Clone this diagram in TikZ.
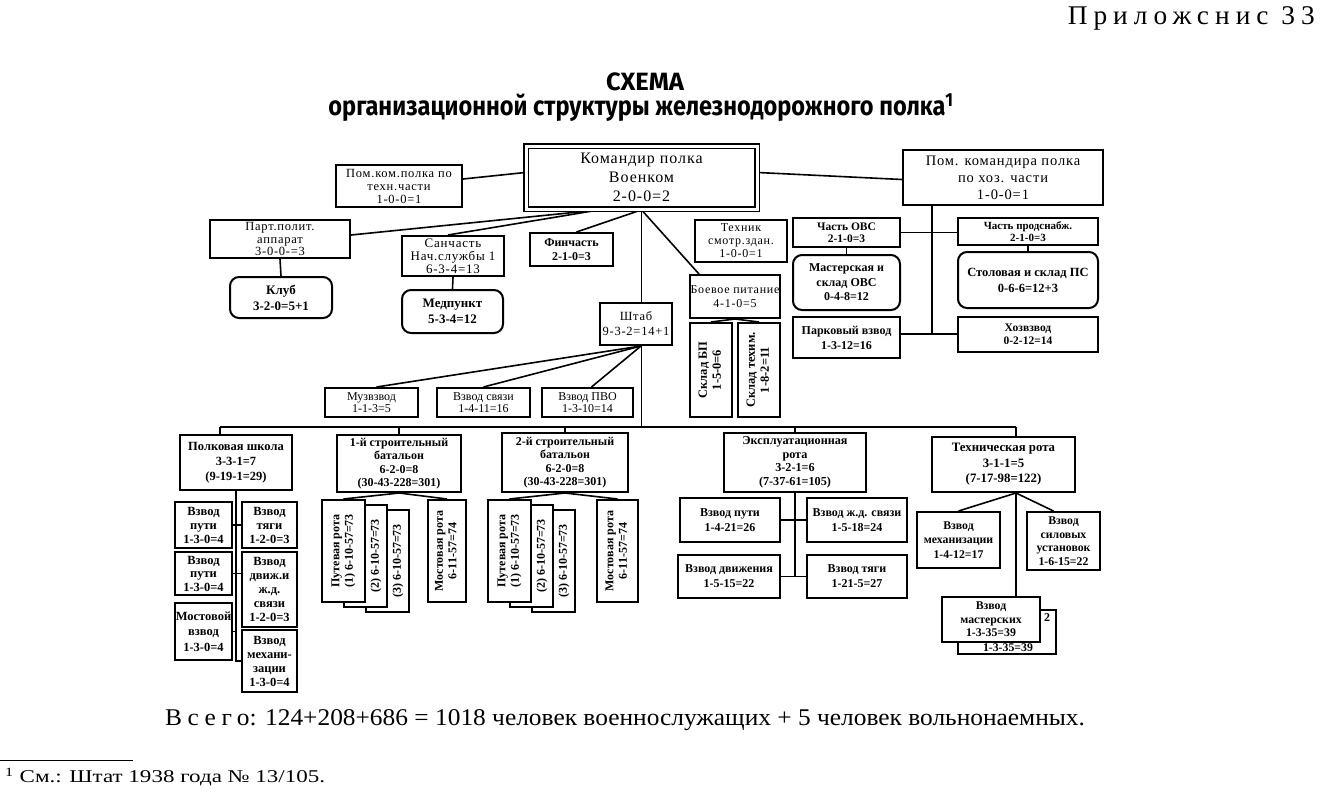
\documentclass[tikz,border=0pt]{standalone}
\usepackage{fontspec}
\usepackage{graphicx}
\setmainfont{Liberation Serif}
\newfontfamily\rsp[LetterSpace=6]{Liberation Serif}
\newfontfamily\spc[LetterSpace=22]{Liberation Serif}
\newfontfamily\ttl{Fira Sans}
\usetikzlibrary{calc}
\pgfdeclarelayer{bg}
\pgfsetlayers{bg,main}
\newcommand\fz[2]{\fontsize{#1}{#2}\selectfont}
\newcommand\rtx[1]{\rotatebox{90}{\begin{tabular}{@{}c@{}}#1\end{tabular}}}
\begin{document}
\begin{tikzpicture}[x=1pt,y=-1pt,
  bx/.style={draw, line width=2pt, fill=white, inner sep=0pt, align=center, font=\fz{12}{13.5}\bfseries},
  rx/.style={bx, font=\fz{12}{13.5}\rsp},
  wh/.style 2 args={minimum width=#1pt, minimum height=#2pt},
  rnd/.style={rounded corners=9pt},
  con/.style={line width=1.6pt},
  lbl/.style={inner sep=0pt, font=\fz{12}{13}\bfseries},
  txt/.style={inner sep=0pt}]
\useasboundingbox (0,0) rectangle (1323,795);

% header and title
\node[txt, anchor=east] (app) at (1315,18) {\resizebox{247pt}{\height}{\spc\fz{27}{27}Приложснис 33}};
\node[txt] (t1) at (645,82) {\resizebox{78pt}{\height}{\ttl\bfseries\fz{25}{25}СХЕМА}};
\node[txt] (t2) at (641,108) {\resizebox{625pt}{\height}{\ttl\bfseries\fz{27}{27}организационной структуры железнодорожного полка\textsuperscript{1}}};

% top level
\node[rx, wh={126}{42}, font=\fz{12.5}{13}\rsp] (pomtech) at (399,186) {Пом.ком.полка по\\техн.части\\1-0-0=1};
\node[rx, wh={231}{63}, double, double distance=3pt, line width=1.7pt, font=\fz{16}{19}\rsp] (kom) at (641.5,177.5) {Командир полка\\Военком\\2-0-0=2};
\node[rx, wh={200}{55}, font=\fz{14.5}{17}\rsp] (pomhoz) at (1003,177.5) {Пом. командира полка\\по хоз. части\\1-0-0=1};

\node[rx, wh={140}{38}, font=\fz{12.5}{12.5}\rsp] (part) at (280,239) {Парт.полит.\\аппарат\\3-0-0-=3};
\node[bx, rnd, wh={102}{41}, font=\fz{13}{16}\bfseries] (klub) at (281,297.5) {Клуб\\3-2-0=5+1};
\node[rx, wh={102}{40}, font=\fz{13}{13}\rsp] (san) at (453,256) {Санчасть\\Нач.службы 1\\6-3-4=13};
\node[bx, rnd, wh={101}{43}, font=\fz{13}{16}\bfseries] (med) at (452.5,311.5) {Медпункт\\5-3-4=12};
\node[bx, wh={83}{33}, font=\fz{12}{14}\bfseries] (fin) at (571.5,249.5) {Финчасть\\2-1-0=3};
\node[rx, wh={92}{42}, font=\fz{12}{13}\rsp] (tech) at (741,241) {Техник\\смотр.здан.\\1-0-0=1};
\node[rx, wh={90}{43}, font=\fz{12}{14}\rsp] (boev) at (735,296.5) {Боевое питание\\4-1-0=5};
\node[bx, wh={42}{94}, font=\fz{12.5}{14}\bfseries] (sbp) at (711,370) {\rtx{Склад БП\\1-5-0=6}};
\node[bx, wh={42}{94}, font=\fz{12.5}{14}\bfseries] (steh) at (759,370) {\rtx{Склад техим.\\1-8-2=11}};
\node[rx, wh={72}{42}, font=\fz{12.5}{15}\rsp] (shtab) at (636,324) {Штаб\\9-3-2=14+1};
\node[rx, wh={93}{29}, font=\fz{12}{12.5}] (muz) at (371.5,402.5) {Музвзвод\\1-1-3=5};
\node[rx, wh={93}{29}, font=\fz{12}{12.5}] (svyaz) at (483.5,402.5) {Взвод связи\\1-4-11=16};
\node[rx, wh={91}{29}, font=\fz{12}{12.5}] (pvo) at (587.5,402.5) {Взвод ПВО\\1-3-10=14};

% right group
\node[bx, wh={107}{29}, font=\fz{11.5}{12.5}\bfseries] (ovs) at (846.5,232.5) {Часть ОВС\\2-1-0=3};
\node[bx, rnd, wh={107}{55}, font=\fz{12}{14.5}\bfseries] (masovs) at (846.5,282.5) {Мастерская и\\склад ОВС\\0-4-8=12};
\node[bx, wh={107}{41}, font=\fz{12}{15}\bfseries] (park) at (846.5,337.5) {Парковый взвод\\1-3-12=16};
\node[bx, wh={140}{27}, font=\fz{11}{12}\bfseries] (prod) at (1028,231.5) {Часть продснабж.\\2-1-0=3};
\node[bx, rnd, wh={140}{56}, font=\fz{12.5}{16}\bfseries] (stol) at (1028,280) {Столовая и склад ПС\\0-6-6=12+3};
\node[bx, wh={140}{35}, font=\fz{11.5}{13.5}\bfseries] (hoz) at (1028,334.5) {Хозвзвод\\0-2-12=14};

% school
\node[bx, wh={112}{55}, font=\fz{12.5}{15}\bfseries] (school) at (236,462.5) {Полковая школа\\3-3-1=7\\(9-19-1=29)};
\node[bx, wh={57}{46}, font=\fz{12.5}{14}\bfseries] (sp1) at (203.5,525) {Взвод\\пути\\1-3-0=4};
\node[bx, wh={55}{46}, font=\fz{12.5}{14}\bfseries] (st) at (269.5,525) {Взвод\\тяги\\1-2-0=3};
\node[bx, wh={57}{43}, font=\fz{12.5}{13.5}\bfseries] (sp2) at (203.5,573.5) {Взвод\\пути\\1-3-0=4};
\node[bx, wh={55}{75}, font=\fz{12.5}{14}\bfseries] (sdv) at (269.5,589.5) {Взвод\\движ.и\\ж.д.\\связи\\1-2-0=3};
\node[bx, wh={57}{57}, font=\fz{12.5}{15.5}\bfseries] (smost) at (203.5,631.5) {Мостовой\\взвод\\1-3-0=4};
\node[bx, wh={55}{62}, font=\fz{12.5}{14}\bfseries] (smeh) at (269.5,661) {Взвод\\механи-\\зации\\1-3-0=4};

% battalion 1
\node[bx, wh={124}{57}, font=\fz{12}{13.5}\bfseries] (bat1) at (399,463.5) {1-й строительный\\батальон\\6-2-0=8\\(30-43-228=301)};
\node[bx, wh={43}{102}] (p1c) at (387.5,561) {};
\node[bx, wh={43}{102}] (p1b) at (365.5,556) {};
\node[bx, wh={43}{102}] (p1a) at (343.5,551) {\rtx{Путевая рота\\(1) 6-10-57=73}};
\node[lbl] (p1bt) at (376,556) {\rotatebox{90}{(2) 6-10-57=73}};
\node[lbl] (p1ct) at (398,561) {\rotatebox{90}{(3) 6-10-57=73}};
\node[bx, wh={38}{102}] (m1) at (447,551) {\rtx{Мостовая рота\\6-11-57=74}};

% battalion 2
\node[bx, wh={126}{59}, font=\fz{12}{13.5}\bfseries] (bat2) at (565,462.5) {2-й строительный\\батальон\\6-2-0=8\\(30-43-228=301)};
\node[bx, wh={43}{102}] (p2c) at (553.5,561) {};
\node[bx, wh={43}{102}] (p2b) at (531.5,556) {};
\node[bx, wh={43}{102}] (p2a) at (509.5,551) {\rtx{Путевая рота\\(1) 6-10-57=73}};
\node[lbl] (p2bt) at (542,556) {\rotatebox{90}{(2) 6-10-57=73}};
\node[lbl] (p2ct) at (564,561) {\rotatebox{90}{(3) 6-10-57=73}};
\node[bx, wh={41}{102}] (m2) at (617.5,551) {\rtx{Мостовая рота\\6-11-57=74}};

% exploitation company
\node[bx, wh={142}{59}, font=\fz{12.2}{13.5}\bfseries] (expl) at (795,462.5) {Эксплуатационная\\рота\\3-2-1=6\\(7-37-61=105)};
\node[bx, wh={100}{44}, font=\fz{12}{15}\bfseries] (ep) at (730,520) {Взвод пути\\1-4-21=26};
\node[bx, wh={100}{44}, font=\fz{12}{15}\bfseries] (ejd) at (857,520) {Взвод ж.д. связи\\1-5-18=24};
\node[bx, wh={102}{43}, font=\fz{12}{15}\bfseries] (edv) at (729,576.5) {Взвод движения\\1-5-15=22};
\node[bx, wh={100}{43}, font=\fz{12}{15}\bfseries] (et) at (857,576.5) {Взвод тяги\\1-21-5=27};

% technical company
\node[bx, wh={143}{55}, font=\fz{12.8}{15.5}\bfseries] (techr) at (1003.5,464.5) {Техническая рота\\3-1-1=5\\(7-17-98=122)};
\node[bx, wh={83}{56}, font=\fz{11.8}{14.5}\bfseries] (tmeh) at (958.5,540) {Взвод\\механизации\\1-4-12=17};
\node[bx, wh={73}{58}, font=\fz{11.8}{13.5}\bfseries] (tsil) at (1063.5,541) {Взвод\\силовых\\установок\\1-6-15=22};
\node[bx, wh={98}{44}] (tmasb) at (1007,632) {};
\node[lbl] (tmasb2) at (1047,618) {2};
\node[lbl, font=\fz{11.8}{13}\bfseries] (tmasb3) at (1008,648) {1-3-35=39};
\node[bx, wh={98}{45}, font=\fz{11.8}{13.5}\bfseries] (tmasf) at (991,619.5) {Взвод\\мастерских\\1-3-35=39};

% footer
\node[txt] (total) at (625,720) {\resizebox{920pt}{\height}{\fz{24}{24}{\spc Всего}: 124+208+686 = 1018 человек военнослужащих + 5 человек вольнонаемных.}};
\coordinate (fnL) at (0,760);
\coordinate (fnR) at (133,760);
\node[txt, anchor=west] (fn) at (5,777) {\resizebox{320pt}{\height}{\fz{18}{18}\textsuperscript{1} См.: Штат 1938 года № 13/105.}};

\coordinate (busL) at (220,427);
\coordinate (busR) at (1016,427);
\coordinate (hzb) at (932,334);

\begin{pgfonlayer}{bg}
\draw[line width=0.8pt] (fnL) -- (fnR);
\draw[con] ([yshift=7pt]pomtech.east) -- ([yshift=5pt]kom.west);
\draw[con] ([yshift=5pt]kom.east) -- ([yshift=-2pt]pomhoz.west);
\draw[con] ([xshift=-42pt]kom.south) -- ([yshift=4pt]part.east);
\draw[con] ([xshift=-42pt]kom.south) -- ([xshift=-5pt]san.north);
\draw[con] (kom.south) -- ([xshift=5pt]fin.north);
\draw[con] (kom.south) -- ([xshift=10pt]boev.north west);
\draw[con] (kom.south) -- (kom.south |- shtab.north);
\draw[con] (kom.south |- shtab.south) -- (kom.south |- busL);
\draw[con] (part.south) -- (klub.north);
\draw[con] (san.south) -- (med.north);
\draw[con] (boev.south) -- (sbp.north);
\draw[con] (boev.south) -- (steh.north);
\draw[con] ([xshift=5pt]shtab.south) -- ([xshift=5pt]muz.north);
\draw[con] ([xshift=5pt]shtab.south) -- (svyaz.north);
\draw[con] ([xshift=5pt]shtab.south) -- ([xshift=4pt]pvo.north);
% right group
\draw[con] (pomhoz.south -| hzb) -- (hzb);
\draw[con] (ovs.east) -- (ovs.east -| prod.west);
\draw[con] (park.east |- hzb) -- (hoz.west |- hzb);
\draw[con] (ovs.south) -- (masovs.north);
\draw[con] (prod.south) -- (stol.north);
% bus
\draw[con] (busL) -- (busR);
\draw[con] (busL) -- (busL |- school.north);
\draw[con] (bat1.north |- busL) -- (bat1.north);
\draw[con] (bat2.north |- busL) -- (bat2.north);
\draw[con] (expl.north |- busL) -- (expl.north);
\draw[con] (busR) -- (busR |- techr.north);
% school
\draw[con] (school.south) -- (school.south |- smeh.west) -- (smeh.west);
\draw[con] (sp1.east) -- (st.west);
\draw[con] (sp2.east) -- (sp2.east -| sdv.west);
\draw[con] (smost.east) -- (smost.east -| school.south);
% battalions
\draw[con] (bat1.south) -- (p1a.north);
\draw[con] (bat1.south) -- (m1.north);
\draw[con] (bat2.south) -- (p2a.north);
\draw[con] (bat2.south) -- (m2.north);
% exploitation
\draw[con] (expl.south) -- (expl.south |- edv.east);
\draw[con] (ep.east) -- (ejd.west);
\draw[con] (edv.east) -- (et.west);
% technical
\draw[con] (busR |- techr.south) -- (busR |- tmasf.north);
\draw[con] (busR |- techr.south) -- (tmeh.north);
\draw[con] (busR |- techr.south) -- ([xshift=-10pt]tsil.north);
\end{pgfonlayer}
\end{tikzpicture}
\end{document}
